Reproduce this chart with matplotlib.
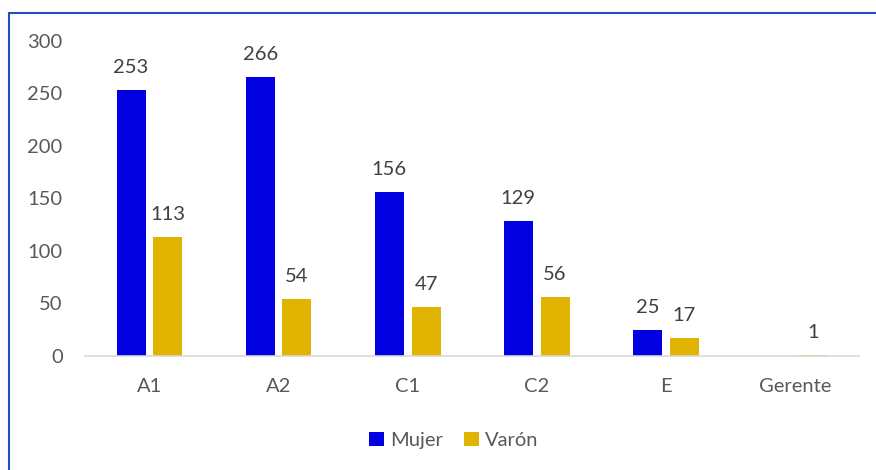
import numpy as np
import matplotlib.pyplot as plt
from matplotlib.patches import Rectangle

categories = ["A1", "A2", "C1", "C2", "E", "Gerente"]
mujer = [253, 266, 156, 129, 25, 0]
varon = [113, 54, 47, 56, 17, 1]

plt.rcParams['font.family'] = ['Lato', 'DejaVu Sans']

fig = plt.figure(figsize=(8.76, 4.70), dpi=100)
ax = fig.add_axes([0.097, 0.2426, 0.884, 0.6702])

x = np.arange(len(categories))
w = 0.225
b1 = ax.bar(x - 0.03 - w / 2, mujer, w, color="#0000e0", label="Mujer")
b2 = ax.bar(x + 0.03 + w / 2, varon, w, color="#e0b400", label="Varón")

# Excel hides the label for the empty Gerente bar
ax.bar_label(b1, labels=[str(v) if v else "" for v in mujer], padding=10,
             fontsize=14.5, color="#404040")
ax.bar_label(b2, labels=[str(v) for v in varon], padding=10,
             fontsize=14.5, color="#404040")

ax.set_xlim(-0.5, len(categories) - 0.5)
ax.set_ylim(0, 300)
ax.set_yticks(range(0, 301, 50))
ax.set_xticks(x)
ax.set_xticklabels(categories)
ax.tick_params(axis="both", length=0, labelsize=14.5, labelcolor="#595959")
ax.tick_params(axis="y", pad=16)
ax.tick_params(axis="x", pad=16)
for s in ["top", "right", "left"]:
    ax.spines[s].set_visible(False)
ax.spines["bottom"].set_color("#d9d9d9")
ax.spines["bottom"].set_linewidth(1.2)

leg = fig.legend(loc="center", bbox_to_anchor=(0.518, 0.063), ncol=2, frameon=False,
                 fontsize=14.5, handlelength=0.75, handleheight=0.75, handletextpad=0.3,
                 columnspacing=1.0)
for t in leg.get_texts():
    t.set_color("#595959")

# blue frame round the chart, clipped on right and bottom
fig.patches.append(Rectangle((9 / 876, -0.1), 1.0, 1 - 13 / 470 + 0.1,
                             transform=fig.transFigure, fill=False,
                             edgecolor="#2050c0", linewidth=1.5))

fig.savefig("out.png", dpi=100)
